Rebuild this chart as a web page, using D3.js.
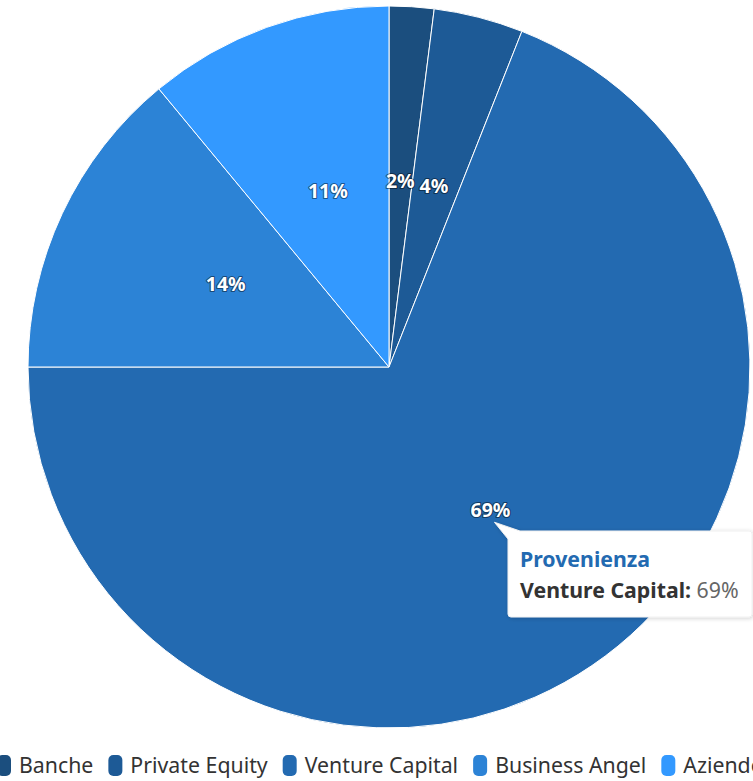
<!DOCTYPE html>
<html>
<head>
<meta charset="utf-8">
<script src="https://cdn.jsdelivr.net/npm/d3@7"></script>
<style>
  html, body { margin: 0; padding: 0; background: #fff; overflow: hidden; }
  svg { display: block; font-family: "Noto Sans", "Open Sans", sans-serif; }
</style>
</head>
<body>
<svg id="chart" width="753" height="781"></svg>
<script>
// Funding sources (percent share)
const categories = ["Banche", "Private Equity", "Venture Capital", "Business Angel", "Aziende"];
const values = [2, 4, 69, 14, 11];
const colors = ["#1b4e7e", "#1d5a96", "#236ab1", "#2c83d6", "#3399ff"];
const seriesName = "Provenienza";
const hovered = "Venture Capital";

const svg = d3.select("#chart");
const cx = 389, cy = 367, radius = 361;

const data = categories.map((c, i) => ({ name: c, value: values[i], color: colors[i] }));

const pie = d3.pie().sort(null).value(d => d.value);
const arc = d3.arc().innerRadius(0).outerRadius(radius);
const arcs = pie(data);

const g = svg.append("g").attr("transform", `translate(${cx},${cy})`);

g.selectAll("path.slice")
  .data(arcs)
  .join("path")
  .attr("class", "slice")
  .attr("d", arc)
  .attr("fill", d => d.data.color)
  .attr("stroke", "#ffffff")
  .attr("stroke-width", 1)
  .attr("stroke-linejoin", "round");

// Percentage labels near each slice centroid
g.selectAll("text.lbl")
  .data(arcs)
  .join("text")
  .attr("class", "lbl")
  .attr("transform", d => { const c = arc.centroid(d); return `translate(${c[0]},${c[1] - 6})`; })
  .attr("text-anchor", "middle")
  .attr("dy", "0.35em")
  .attr("font-size", 19.5)
  .attr("font-weight", 700)
  .attr("fill", "#ffffff")
  .attr("stroke", "rgba(0,0,0,0.45)")
  .attr("stroke-width", 2.2)
  .attr("paint-order", "stroke")
  .attr("stroke-linejoin", "round")
  .text(d => d.data.value + "%");

// Legend
const legend = svg.append("g").attr("transform", "translate(0,766)");
let lx = -3;
data.forEach((d, i) => {
  const item = legend.append("g").attr("transform", `translate(${lx},0)`);
  item.append("rect")
    .attr("x", 0).attr("y", -11)
    .attr("width", 14).attr("height", 21)
    .attr("rx", 5).attr("ry", 5)
    .attr("fill", d.color);
  const t = item.append("text")
    .attr("x", 22).attr("y", 0)
    .attr("dy", "0.35em")
    .attr("font-size", 21.3)
    .attr("fill", "#333333")
    .text(d.name);
  lx += 22 + t.node().getComputedTextLength() + 15;
});

// Tooltip for the highlighted slice
const hov = arcs.find(a => a.data.name === hovered);
const anchor = arc.centroid(hov);
const ax = cx + anchor[0] + 4, ay = cy + anchor[1] + 6;
const bx = 508, by = 531, bw = 244, bh = 86, r = 3;

const tip = svg.append("g");
const shadow = svg.append("defs").append("filter").attr("id", "tipShadow")
  .attr("x", "-20%").attr("y", "-20%").attr("width", "140%").attr("height", "140%");
shadow.append("feDropShadow").attr("dx", 1).attr("dy", 1).attr("stdDeviation", 2)
  .attr("flood-color", "#000").attr("flood-opacity", 0.18);

const tipPath = [
  `M${ax},${ay}`,
  `L${bx + 12},${by}`,
  `L${bx + bw - r},${by}`,
  `Q${bx + bw},${by} ${bx + bw},${by + r}`,
  `L${bx + bw},${by + bh - r}`,
  `Q${bx + bw},${by + bh} ${bx + bw - r},${by + bh}`,
  `L${bx + r},${by + bh}`,
  `Q${bx},${by + bh} ${bx},${by + bh - r}`,
  `L${bx},${by + 8}`,
  "Z"
].join(" ");

tip.append("path")
  .attr("d", tipPath)
  .attr("fill", "#ffffff")
  .attr("stroke", "#f0f0f0")
  .attr("stroke-width", 1)
  .attr("filter", "url(#tipShadow)");

tip.append("text")
  .attr("x", bx + 12).attr("y", by + 36)
  .attr("font-size", 21.3).attr("font-weight", 700)
  .attr("fill", hov.data.color)
  .text(seriesName);

const line2 = tip.append("text")
  .attr("x", bx + 12).attr("y", by + 67)
  .attr("font-size", 21.3);
line2.append("tspan").attr("font-weight", 700).attr("fill", "#333333").text(hov.data.name + ": ");
line2.append("tspan").attr("fill", "#666666").text(hov.data.value + "%");
</script>
</body>
</html>
